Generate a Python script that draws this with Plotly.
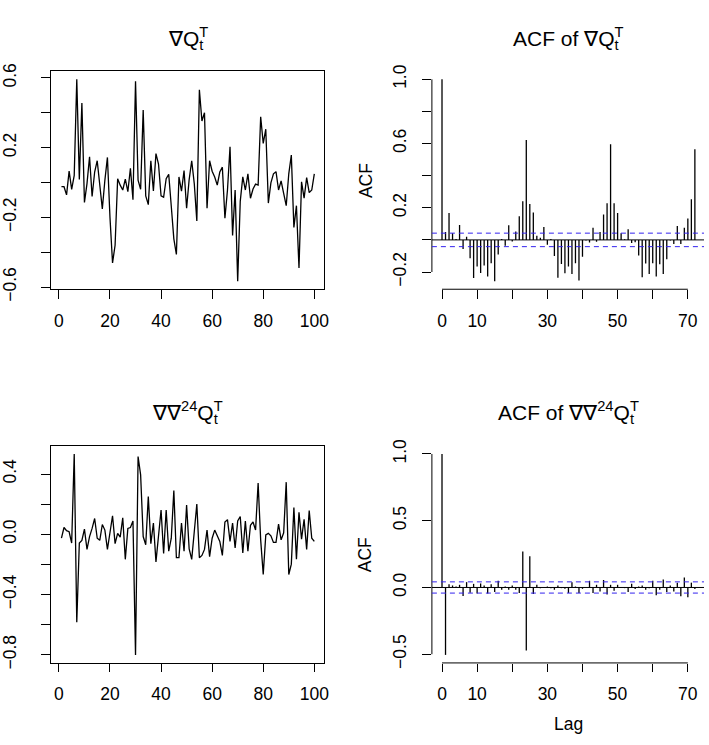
import plotly.graph_objects as go

# ---------------- data ----------------
t = list(range(1, 101))

dQ = [-0.024, -0.024, -0.071, 0.065, -0.039, 0.041, 0.592, 0.017, 0.456, -0.114,
      -0.006, 0.148, -0.080, 0.060, 0.125, -0.024, -0.151, 0.013, 0.144, -0.200,
      -0.461, -0.360, 0.021, -0.015, -0.043, 0.019, -0.052, 0.082, -0.099, 0.581,
      0.013, -0.039, 0.416, -0.077, -0.127, 0.125, -0.049, 0.166, 0.106, -0.077,
      -0.084, 0.022, 0.047, -0.136, -0.323, -0.413, 0.032, -0.049, 0.069, -0.148,
      0.017, 0.125, -0.006, -0.220, 0.532, 0.353, 0.400, -0.148, 0.125, 0.065,
      0.032, -0.015, 0.060, 0.088, -0.205, -0.043, 0.205, -0.304, -0.043, -0.566,
      -0.108, 0.032, -0.043, 0.050, -0.090, -0.037, -0.009, -0.015, 0.377, 0.224,
      0.306, -0.118, -0.002, 0.050, 0.062, -0.043, 0.009, -0.062, -0.133, 0.050,
      0.157, -0.258, -0.133, -0.491, 0.004, -0.090, 0.028, -0.058, -0.043, 0.050]

dd24Q = [-0.026, 0.045, 0.024, 0.017, -0.058, 0.533, -0.583, -0.058, -0.040, 0.034,
         -0.100, -0.015, 0.039, 0.105, -0.026, -0.040, 0.065, 0.028, -0.100, 0.006,
         0.123, -0.062, 0.006, -0.019, 0.110, -0.166, 0.039, 0.045, 0.088, -0.800,
         0.516, 0.394, -0.015, -0.069, 0.250, -0.062, 0.075, -0.183, -0.015, 0.161,
         -0.127, 0.161, -0.112, -0.026, 0.290, -0.155, -0.155, 0.075, -0.112, 0.194,
         -0.097, -0.166, 0.017, 0.200, -0.155, -0.140, -0.100, 0.028, -0.148, -0.026,
         0.028, -0.015, -0.047, -0.140, 0.082, 0.097, -0.047, 0.075, -0.090, 0.088,
         0.118, -0.123, 0.088, -0.112, 0.060, 0.082, 0.028, 0.340, -0.037, -0.267,
         -0.004, 0.006, -0.010, -0.054, -0.054, 0.067, -0.037, 0.010, 0.346, -0.267,
         -0.198, 0.178, -0.166, 0.146, -0.032, 0.100, -0.100, 0.157, -0.026, -0.047]

lags = list(range(73))

acf_dQ = [1.0, 0.05, 0.168, 0.042, 0.006, 0.093, -0.057, 0.02, -0.115, -0.238,
          -0.166, -0.206, -0.16, -0.228, -0.145, -0.257, -0.091, 0.006, -0.036, 0.091,
          -0.01, 0.053, 0.147, 0.24, 0.622, 0.224, 0.17, 0.026, 0.014, 0.081,
          -0.03, 0.006, -0.1, -0.236, -0.15, -0.208, -0.166, -0.212, -0.145, -0.253,
          -0.105, -0.004, -0.016, 0.075, -0.012, 0.05, 0.158, 0.228, 0.596, 0.228,
          0.168, 0.042, 0.004, 0.067, -0.02, -0.014, -0.097, -0.232, -0.147, -0.212,
          -0.145, -0.228, -0.152, -0.212, -0.121, -0.004, -0.026, 0.087, -0.026, 0.075,
          0.133, 0.253, 0.564]

acf_dd24Q = [1.0, -0.505, 0.024, 0.015, 0.007, 0.02, -0.063, 0.04, -0.04, 0.027,
             -0.046, 0.03, 0.015, -0.046, 0.024, -0.034, 0.05, -0.017, 0.007, -0.017,
             0.015, -0.017, -0.041, 0.27, -0.473, 0.233, -0.049, 0.02, -0.005, 0.002,
             0.007, -0.005, -0.017, 0.015, -0.005, -0.01, -0.041, 0.04, 0.007, -0.041,
             -0.01, 0.0, 0.05, -0.041, 0.02, -0.03, 0.056, -0.053, 0.02, -0.024,
             0.02, 0.002, -0.005, -0.034, 0.027, -0.012, 0.007, 0.015, -0.017, -0.005,
             0.05, -0.058, -0.017, 0.06, -0.034, 0.015, -0.03, 0.036, -0.066, 0.075,
             -0.073, 0.036, -0.012]

ci = 0.042

ts_xticks = [0, 20, 40, 60, 80, 100]
ts_xlabels = ["0", "20", "40", "60", "80", "100"]
acf_xticks = [0, 10, 20, 30, 40, 50, 60, 70]
acf_xlabels = ["0", "10", "", "30", "", "50", "", "70"]
tl_yticks = [-0.6, -0.4, -0.2, 0.0, 0.2, 0.4, 0.6]
tl_ylabels = ["\u22120.6", "", "\u22120.2", "", "0.2", "", "0.6"]
tr_yticks = [-0.2, 0.0, 0.2, 0.4, 0.6, 0.8, 1.0]
tr_ylabels = ["\u22120.2", "", "0.2", "", "0.6", "", "1.0"]
bl_yticks = [-0.8, -0.6, -0.4, -0.2, 0.0, 0.2, 0.4]
bl_ylabels = ["\u22120.8", "", "\u22120.4", "", "0.0", "", "0.4"]
br_yticks = [-0.5, 0.0, 0.5, 1.0]
br_ylabels = ["\u22120.5", "0.0", "0.5", "1.0"]

# ---------------- layout constants ----------------
W, H = 709, 745
FONT = "Liberation Sans, Arial, Helvetica, sans-serif"
TICK_FS = 17.5
TITLE_FS = 21
CI_COL = "#3322ee"
LW = 1.3

xL = [47 / W, 324 / W]
xR = [433 / W, 1.0]
yT = [1 - 289 / H, 1 - 65 / H]
yB = [1 - 673 / H, 1 - 450 / H]


def rext(lo, hi):
    d = (hi - lo) * 0.04
    return [lo - d, hi + d]


def acf_xrange(maxlag):
    lo, hi = rext(0, maxlag)
    # R plot region runs to x=710px; the page is cut at 709px
    return [lo, lo + (709 - 433) / (710 - 433) * (hi - lo)]


def vbars(xv, yv):
    xs, ys = [], []
    for a, b in zip(xv, yv):
        xs += [a, a, None]
        ys += [0, b, None]
    return xs, ys


def split_ticks(vals, labels):
    major = [v for v, s in zip(vals, labels) if s]
    text = [s for s in labels if s]
    minor = [v for v, s in zip(vals, labels) if not s]
    return major, text, minor


fig = go.Figure()

fig.add_trace(go.Scatter(x=t, y=dQ, mode="lines", line=dict(color="black", width=LW),
                         xaxis="x", yaxis="y", showlegend=False, hoverinfo="skip"))
bx, by = vbars(lags, acf_dQ)
fig.add_trace(go.Scatter(x=bx, y=by, mode="lines", line=dict(color="black", width=LW),
                         xaxis="x2", yaxis="y2", showlegend=False, hoverinfo="skip"))
fig.add_trace(go.Scatter(x=t, y=dd24Q, mode="lines", line=dict(color="black", width=LW),
                         xaxis="x3", yaxis="y3", showlegend=False, hoverinfo="skip"))
bx, by = vbars(lags, acf_dd24Q)
fig.add_trace(go.Scatter(x=bx, y=by, mode="lines", line=dict(color="black", width=LW),
                         xaxis="x4", yaxis="y4", showlegend=False, hoverinfo="skip"))

tickfont = dict(family=FONT, size=TICK_FS, color="black")


def axis(domain, rng, vals, labels, anchor, box, ticklen, standoff, angle=None):
    major, text, minor = split_ticks(vals, labels)
    d = dict(domain=domain, range=rng, tickmode="array", tickvals=major, ticktext=text,
             ticks="outside", ticklen=ticklen, tickwidth=1, tickcolor="black",
             showline=box, mirror=box, linecolor="black", linewidth=1,
             showgrid=False, zeroline=False, anchor=anchor, tickfont=tickfont,
             ticklabelstandoff=standoff, fixedrange=True)
    if minor:
        d["minor"] = dict(tickmode="array", tickvals=minor, ticks="outside", ticklen=ticklen,
                          tickwidth=1, tickcolor="black", showgrid=False)
    if angle is not None:
        d["tickangle"] = angle
    return d


ts_xrange = rext(min(t), max(t))
acf_lo1 = min(min(acf_dQ), -ci)
acf_lo2 = min(min(acf_dd24Q), -ci)

fig.update_layout(
    width=W, height=H, margin=dict(l=0, r=0, t=0, b=0),
    paper_bgcolor="white", plot_bgcolor="white",
    font=dict(family=FONT, color="black"),
    xaxis=axis(xL, ts_xrange, ts_xticks, ts_xlabels, "y", True, 8.5, 7),
    yaxis=axis(yT, rext(min(dQ), max(dQ)), tl_yticks, tl_ylabels, "x", True, 9, 18, -90),
    xaxis2=axis(xR, acf_xrange(max(lags)), acf_xticks, acf_xlabels, "y2", False, 8.5, 7),
    yaxis2=axis(yT, rext(acf_lo1, max(acf_dQ)), tr_yticks, tr_ylabels, "x2", False, 9, 9, -90),
    xaxis3=axis(xL, ts_xrange, ts_xticks, ts_xlabels, "y3", True, 8.5, 7),
    yaxis3=axis(yB, rext(min(dd24Q), max(dd24Q)), bl_yticks, bl_ylabels, "x3", True, 9, 18, -90),
    xaxis4=axis(xR, acf_xrange(max(lags)), acf_xticks, acf_xlabels, "y4", False, 8.5, 7),
    yaxis4=axis(yB, rext(acf_lo2, max(acf_dd24Q)), br_yticks, br_ylabels, "x4", False, 9, 9, -90),
)

shapes = []
for xa, ya, ytv in (("x2", "y2", tr_yticks), ("x4", "y4", br_yticks)):
    # R-style axis lines (first to last tick only)
    shapes.append(dict(type="line", xref=xa, yref=ya + " domain", x0=acf_xticks[0], x1=acf_xticks[-1],
                       y0=0, y1=0, line=dict(color="black", width=1)))
    shapes.append(dict(type="line", xref=xa + " domain", yref=ya, x0=0, x1=0,
                       y0=ytv[0], y1=ytv[-1], line=dict(color="black", width=1)))
    # zero line
    shapes.append(dict(type="line", xref=xa + " domain", yref=ya, x0=0, x1=1, y0=0, y1=0,
                       line=dict(color="black", width=1)))
    # confidence limits
    for c in (ci, -ci):
        shapes.append(dict(type="line", xref=xa + " domain", yref=ya, x0=0, x1=1, y0=c, y1=c,
                           line=dict(color=CI_COL, width=1, dash="5px,4px")))
fig.update_layout(shapes=shapes)

HID = "<span style='color:rgba(0,0,0,0)'>{}</span>"


def title_pair(prefix_vis, prefix_hid):
    # stacked sub/superscript (plotmath style Q[t]^T): two aligned copies,
    # each showing only one of the two scripts
    a = prefix_vis + "Q<sub>t</sub><sup>" + HID.format("T") + "</sup>"
    b = prefix_hid + HID.format("Q") + "<sup>T</sup><sub>" + HID.format("t") + "</sub>"
    return a, b


titles = [
    (title_pair("\u2207", HID.format("\u2207")), (47 + 324) / 2, 31),
    (title_pair("ACF of \u2207", HID.format("ACF of \u2207")), (433 + 710) / 2, 31),
    (title_pair("\u2207\u2207<sup>24</sup>",
                HID.format("\u2207\u2207") + "<sup>" + HID.format("24") + "</sup>"), (47 + 324) / 2, 416),
    (title_pair("ACF of \u2207\u2207<sup>24</sup>",
                HID.format("ACF of \u2207\u2207") + "<sup>" + HID.format("24") + "</sup>"), (433 + 710) / 2, 416),
]

ann = []
for (ta, tb), cx, cy in titles:
    for txt in (ta, tb):
        ann.append(dict(text=txt, xref="paper", yref="paper", x=cx / W, y=1 - cy / H,
                        xanchor="center", yanchor="middle", showarrow=False, xshift=2,
                        font=dict(family=FONT, size=TITLE_FS, color="black")))

for cy in ((65 + 289) / 2, (450 + 673) / 2):
    ann.append(dict(text="ACF", xref="paper", yref="paper", x=366 / W, y=1 - cy / H,
                    xanchor="center", yanchor="middle", showarrow=False, textangle=-90,
                    font=dict(family=FONT, size=TICK_FS, color="black")))
ann.append(dict(text="Lag", xref="paper", yref="paper", x=571.5 / W, y=1 - 736 / H,
                xanchor="center", yanchor="middle", showarrow=False,
                font=dict(family=FONT, size=TICK_FS, color="black")))
fig.update_layout(annotations=ann)

fig.write_html("out.html")
